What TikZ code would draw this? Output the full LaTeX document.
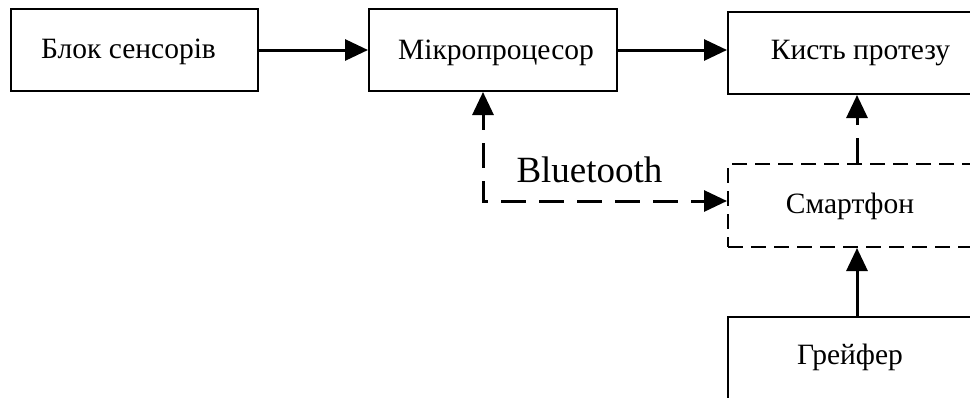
\documentclass[tikz,border=0pt]{standalone}
\usepackage{fontspec}
\setmainfont{Liberation Serif}
\usetikzlibrary{arrows.meta}
\begin{document}
\begin{tikzpicture}[x=1pt,y=-1pt,
  block/.style={draw,line width=2pt,inner sep=0pt},
  dblock/.style={block,dash pattern=on 15pt off 8pt},
  caption/.style={anchor=base,inner sep=0pt,font=\fontsize{29.5}{34}\selectfont},
  flow/.style={line width=3pt,-{Triangle[length=23pt,width=21pt]}},
  dflow/.style={flow,dash pattern=on 25pt off 13pt}]
  \useasboundingbox (0,0) rectangle (970,397);
  % blocks
  \node[block,minimum width=247pt,minimum height=82pt] (sens) at (134.5,50) {};
  \node[block,minimum width=248pt,minimum height=82pt] (mcu) at (493,50) {};
  \node[block,minimum width=264pt,minimum height=82pt] (hand) at (860,53) {};
  \node[dblock,minimum width=244pt,minimum height=83pt] (phone) at (850,205.5) {};
  \node[block,minimum width=244pt,minimum height=82pt,anchor=north] (grip) at (850,316) {};
  % block captions
  \node[caption] (senstext) at (128.5,58) {Блок сенсорів};
  \node[caption] (mcutext) at (496,59) {Мікропроцесор};
  \node[caption] (handtext) at (860.5,59) {Кисть протезу};
  \node[caption] (phonetext) at (850,213) {Смартфон};
  \node[caption] (griptext) at (850,364) {Грейфер};
  % connectors
  \coordinate (vx) at (857,0);
  \coordinate (bt) at (483,201);
  \draw[flow] (sens.east) -- (mcu.west);
  \draw[flow] (mcu.east) -- (mcu.east -| hand.west);
  \draw[dflow] (phone.north -| vx) -- (hand.south -| vx);
  \draw[flow] (grip.north -| vx) -- (phone.south -| vx);
  \draw[dflow,dash phase=9pt,{Triangle[length=23pt,width=21pt]}-{Triangle[length=23pt,width=21pt]}]
    (mcu.south -| bt) |- (bt -| phone.west);
  \node[anchor=base,inner sep=0pt,font=\fontsize{37}{42}\selectfont] (btlabel) at (589.5,182) {Bluetooth};
\end{tikzpicture}
\end{document}
